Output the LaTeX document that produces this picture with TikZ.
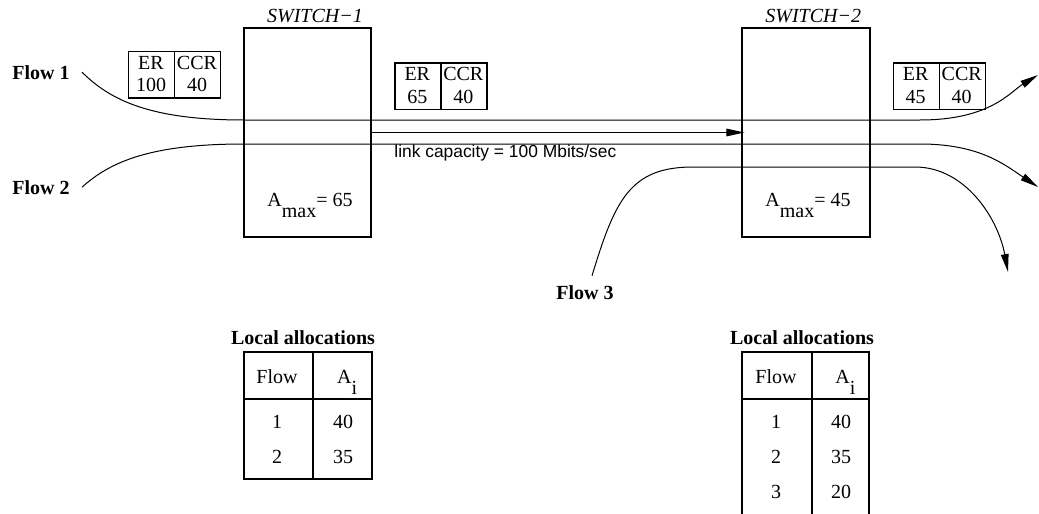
\documentclass[tikz,border=0pt]{standalone}
\usepackage{fontspec}
\setmainfont{Liberation Serif}
\setsansfont{Liberation Sans}
\usetikzlibrary{arrows.meta}
\newcommand\ratebox[5]{%
  \node[box, minimum width=23pt, minimum height=23.3pt, anchor=north west] (#1er) at (#2,#3) {};
  \node[box, minimum width=23pt, minimum height=23.3pt, anchor=north west] (#1ccr) at ({#2+46},#3) {};
  \node[txt, anchor=base] (#1era) at ({#2+23},{#3+18.5}) {ER};
  \node[txt, anchor=base] (#1erb) at ({#2+23},{#3+40.7}) {#4};
  \node[txt, anchor=base] (#1ccra) at ({#2+69},{#3+18.5}) {CCR};
  \node[txt, anchor=base] (#1ccrb) at ({#2+69},{#3+40.7}) {#5};
}
\begin{document}
\begin{tikzpicture}[x=0.5pt,y=-0.5pt,
  box/.style={draw, line width=0.6pt, inner sep=0pt},
  flow/.style={line width=0.5pt},
  tip/.style={-{Triangle[length=9pt,width=3.8pt]}},
  lbl/.style={font=\bfseries, inner sep=0pt},
  txt/.style={inner sep=0pt},
  grid/.style={line width=0.6pt},
]
\useasboundingbox (0,0) rectangle (1039,514);

% switches
\node[box, minimum width=63.5pt, minimum height=104.5pt] (sw1) at (307.5,132.5) {};
\node[box, minimum width=64pt, minimum height=104.5pt] (sw2) at (806,132.5) {};
\node[txt, anchor=base west, font=\itshape] (sw1lbl) at (266.7,23) {SWITCH−1};
\node[txt, anchor=base west, font=\itshape] (sw2lbl) at (765,23) {SWITCH−2};
\node[txt, anchor=base west] (amax1) at (267,206) {A\raisebox{-5.6pt}{max}= 65};
\node[txt, anchor=base west] (amax2) at (765,206) {A\raisebox{-5.6pt}{max}= 45};

% rate boxes
\ratebox{rb1}{128}{50.7}{100}{40}
\ratebox{rb2}{394.3}{62.3}{65}{40}
\ratebox{rb3}{892.7}{62.3}{45}{40}

% flow labels
\node[lbl, anchor=base west] (fl1) at (12,79) {Flow 1};
\node[lbl, anchor=base west] (fl2) at (12,194) {Flow 2};
\node[lbl, anchor=base] (fl3) at (585,299) {Flow 3};

% free ends
\coordinate (f1e) at (1038,75);
\coordinate (f2e) at (1038,187);
\coordinate (f3e) at (1008,272);

% flows
\draw[flow, tip] ([xshift=6pt]fl1.east) .. controls (110,100) and (150,120) .. (244,120)
  -- (920,120) .. controls (990,120) and (1010,92) .. (f1e);
\draw[flow, tip] ([xshift=6pt]fl2.east) .. controls (110,162) and (150,144) .. (244,144)
  -- (920,144) .. controls (980,144) and (1005,165) .. (f2e);
\draw[flow, tip] ([xshift=3.5pt,yshift=4.5pt]fl3.north) .. controls (615,200) and (630,167) .. (693,167)
  -- (915,167) .. controls (965,167) and (998,218) .. (f3e);

% link
\draw[flow, tip] (sw1.east) -- ([xshift=1.5pt]sw2.west);
\node[txt, anchor=base west, font=\sffamily\fontsize{8.7}{10}\selectfont] (cap) at (394,157) {link capacity = 100 Mbits/sec};

% left table
\node[lbl, anchor=base] (t1title) at (303,344) {Local allocations};
\draw[grid] (244,352) rectangle (372,479);
\draw[grid] (313,352) -- (313,479);
\draw[grid] (244,399) -- (372,399);
\node[txt, anchor=base] (t1h1) at (277,383) {Flow};
\node[txt, anchor=base west] (t1h2) at (336.7,383) {A\raisebox{-5.6pt}{i}};
\node[txt, anchor=base] (t1r1a) at (277,428) {1};
\node[txt, anchor=base] (t1r1b) at (343,428) {40};
\node[txt, anchor=base] (t1r2a) at (277,463) {2};
\node[txt, anchor=base] (t1r2b) at (343,463) {35};

% right table
\node[lbl, anchor=base] (t2title) at (802,344) {Local allocations};
\draw[grid] (742,514) -- (742,352) -- (869,352) -- (869,514);
\draw[grid] (812,352) -- (812,514);
\draw[grid] (742,399) -- (869,399);
\node[txt, anchor=base] (t2h1) at (776,383) {Flow};
\node[txt, anchor=base west] (t2h2) at (835,383) {A\raisebox{-5.6pt}{i}};
\node[txt, anchor=base] (t2r1a) at (776,428) {1};
\node[txt, anchor=base] (t2r1b) at (841,428) {40};
\node[txt, anchor=base] (t2r2a) at (776,463) {2};
\node[txt, anchor=base] (t2r2b) at (841,463) {35};
\node[txt, anchor=base] (t2r3a) at (776,498) {3};
\node[txt, anchor=base] (t2r3b) at (841,498) {20};
\end{tikzpicture}
\end{document}
